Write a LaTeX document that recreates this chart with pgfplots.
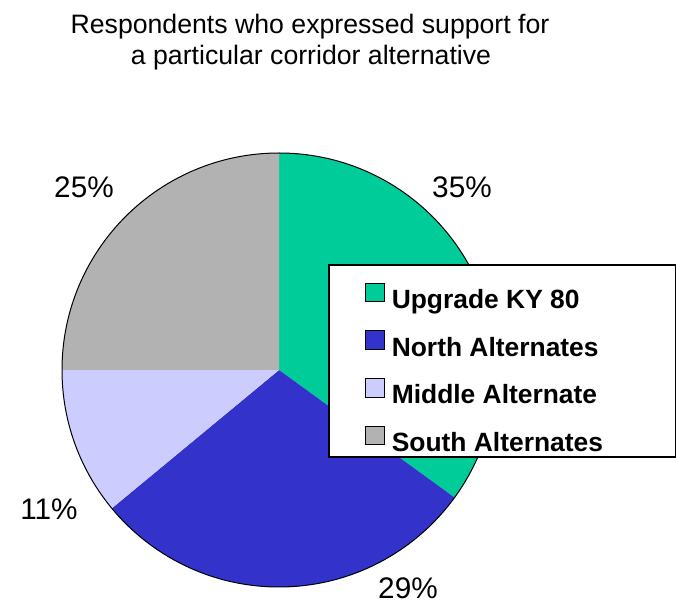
\documentclass[border=0pt]{standalone}
\usepackage{pgfplots}
\pgfplotsset{compat=1.18}
\usepackage{pgfplotstable}
\usepackage{fontspec}
\setmainfont{Liberation Sans}
\definecolor{cUp}{HTML}{00CC99}
\definecolor{cNorth}{HTML}{3333CC}
\definecolor{cMid}{HTML}{CCCCFF}
\definecolor{cSouth}{HTML}{B2B2B2}

% share (%), slice colour, label position (px, y from bottom)
\pgfplotstableread{
share color lx ly
35 cUp 462 405
29 cNorth 408 4
11 cMid 49 83
25 cSouth 84 405
}\piedata

\begin{document}
\begin{tikzpicture}
\begin{axis}[
  x=0.75pt, y=0.75pt, xmin=0, xmax=676, ymin=0, ymax=603,
  hide axis, clip=false,
  legend cell align=left,
  legend image code/.code={\draw[#1] (0pt,-1.75pt) rectangle (13.75pt,12pt); \path (19.5pt,0pt);},
  legend style={at={(axis cs:365,320.5)}, anchor=north west, draw=none, fill=none,
    inner xsep=0pt, inner ysep=0pt, row sep=16.6pt,
    nodes={inner sep=0pt, text height=14pt, text depth=0pt,
      font=\fontsize{19.8}{22}\selectfont\bfseries}},
]
\path (axis cs:0,0) rectangle (axis cs:676,603);
\gdef\startang{90}
\pgfplotsinvokeforeach{0,1,2,3}{
  \pgfplotstablegetelem{#1}{share}\of\piedata \let\share\pgfplotsretval
  \pgfplotstablegetelem{#1}{color}\of\piedata \let\slicecol\pgfplotsretval
  \pgfplotstablegetelem{#1}{lx}\of\piedata \let\lx\pgfplotsretval
  \pgfplotstablegetelem{#1}{ly}\of\piedata \let\ly\pgfplotsretval
  \pgfmathsetmacro\endang{\startang-3.6*\share}
  \edef\temp{\noexpand\fill[\slicecol] (axis cs:279,233) -- ++(\startang:162.75pt)
      arc[start angle=\startang, end angle=\endang, radius=162.75pt] -- cycle;
    \noexpand\node[anchor=base, font=\noexpand\fontsize{22.3}{26}\noexpand\selectfont]
      at (axis cs:\lx,\ly) {\share\noexpand\%};}
  \temp
  \global\let\startang\endang
}
\draw[black, line width=0.75pt] (axis cs:279,233) circle[radius=162.75pt];
\filldraw[fill=white, draw=black, line width=0.9pt] (axis cs:329,146) rectangle (axis cs:675.4,338);

\node[anchor=base, font=\fontsize{20}{24}\selectfont] at (axis cs:310,569) {Respondents who expressed support for};
\node[anchor=base, font=\fontsize{20}{24}\selectfont] at (axis cs:311,538) {a particular corridor alternative};

\addlegendimage{fill=cUp, draw=black}
\addlegendentry{Upgrade KY 80}
\addlegendimage{fill=cNorth, draw=black}
\addlegendentry{North Alternates}
\addlegendimage{fill=cMid, draw=black}
\addlegendentry{Middle Alternate}
\addlegendimage{fill=cSouth, draw=black}
\addlegendentry{South Alternates}
\end{axis}
\end{tikzpicture}
\end{document}
